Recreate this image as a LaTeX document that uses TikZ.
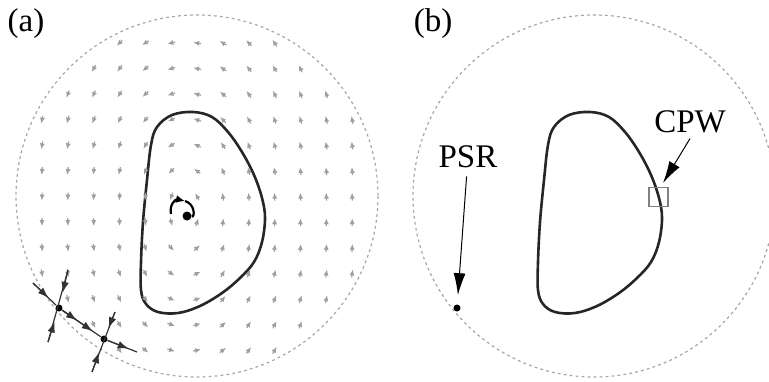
\documentclass[tikz,border=0pt]{standalone}
\usepackage{fontspec}
\setmainfont{Liberation Serif}
\usepackage{tikz}
\usetikzlibrary{arrows.meta,positioning,calc}

\begin{document}
\begin{tikzpicture}[
  x=0.5pt, y=-0.5pt,
  lbl/.style={font=\fontsize{16.5}{18}\selectfont, inner sep=0pt},
  wall/.style={draw=gray!70, line width=0.6pt, dash pattern=on 1.4pt off 1.6pt},
  lcfs/.style={draw=black!85, line width=1.3pt},
  fld/.style={draw=gray!75, line width=0.6pt, -{Latex[length=3pt,width=2.6pt]}},
  xln/.style={draw=black!80, line width=0.6pt},
  xarr/.style={draw=black!80, line width=0.6pt, -{Latex[length=5.5pt,width=3.8pt]}},
  pnt/.style={circle, fill=black, inner sep=0pt, minimum size=3.5pt},
  callout/.style={-{Latex[length=11pt,width=6pt]}, line width=0.5pt}
]
  \useasboundingbox (0,0) rectangle (769,381);

  \draw[wall] (197,196) circle[radius=181];
  \draw[wall] (594,196) circle[radius=181];

  \foreach \s in {0,397}
    \draw[lcfs, shift={(\s,0)}] plot[smooth cycle, tension=0.6] coordinates {
      (157,127) (172,115) (193,112) (212,117) (228,132) (242,152) (254,175)
      (262,198) (265,218) (262,242) (254,262) (240,278) (222,293) (200,306)
      (178,313) (158,312) (146,304) (141,290) (141,262) (143,222) (147,180) (151,145)};

  \foreach \i in {0,...,13}{
    \foreach \j in {0,...,12}{
      \pgfmathsetmacro{\px}{42+25.85*\i}
      \pgfmathsetmacro{\py}{43+25.6*\j}
      \pgfmathsetmacro{\rr}{100*veclen((\px-197)/100,(\py-196)/100)}
      \pgfmathsetmacro{\ra}{veclen((\px-186)/10,(\py-212)/10)}
      \pgfmathtruncatemacro{\ok}{and(\rr<176,\ra>1.5)}
      \ifnum\ok=1
        \pgfmathsetmacro{\vx}{0.6*(\py-212)/100}
        \pgfmathsetmacro{\vy}{-(\px-186)/60}
        \pgfmathsetmacro{\vn}{veclen(\vx,\vy)}
        \pgfmathsetmacro{\ax}{\px-4*\vx/\vn}
        \pgfmathsetmacro{\ay}{\py-4*\vy/\vn}
        \pgfmathsetmacro{\bx}{\px+4*\vx/\vn}
        \pgfmathsetmacro{\by}{\py+4*\vy/\vn}
        \draw[fld] (\ax,\ay) -- (\bx,\by);
      \fi
    }
  }

  \node[pnt, minimum size=4.5pt] (axis) at (187,216) {};
  \draw[line width=1.1pt, -{Latex[length=4.5pt,width=4pt]}] (171,214) .. controls (169,204) and (176,199) .. (185,201);
  \draw[line width=1.1pt] (185,201) .. controls (195,204) and (195,217) .. (axis);

  \node[pnt] (x1) at (59,308) {};
  \node[pnt] (x2) at (104,339) {};
  \coordinate (x1nw) at (33,283);
  \coordinate (x1n) at (68,270);
  \coordinate (x1s) at (48,342);
  \coordinate (x2n) at (115,312);
  \coordinate (x2s) at (92,372);
  \coordinate (x2e) at (137,352);
  \draw[xln] (x1nw) -- (x1) -- (x2) -- (x2e);
  \draw[xln] (x1n) -- (x1s);
  \draw[xln] (x2n) -- (x2s);
  \draw[xarr] (x1nw) -- ($(x1nw)!0.6!(x1)$);
  \draw[xarr] (x1n) -- ($(x1n)!0.6!(x1)$);
  \draw[xarr] (x1s) -- ($(x1s)!0.6!(x1)$);
  \draw[xarr] (x1) -- ($(x1)!0.4!(x2)$);
  \draw[xarr] (x1) -- ($(x1)!0.75!(x2)$);
  \draw[xarr] (x2n) -- ($(x2n)!0.6!(x2)$);
  \draw[xarr] (x2s) -- ($(x2s)!0.6!(x2)$);
  \draw[xarr] (x2) -- ($(x2)!0.75!(x2e)$);

  \node[lbl] (la) at (26,24) {(a)};
  \node[lbl] (lb) at (433,24) {(b)};
  \node[lbl] (psr) at (468,157) {PSR};
  \node[lbl] (cpw) at (690,122) {CPW};
  \node[pnt] (psrdot) at (457,308) {};
  \node[draw=gray, line width=0.6pt, minimum size=9.5pt, inner sep=0pt] (cpwbox) at (658.5,197) {};
  \coordinate (cpwtip) at (663,183);

  \draw[callout, shorten <=4pt, shorten >=4.5pt] (psr) -- (psrdot);
  \draw[callout] ([yshift=-2.5pt]cpw.south) -- (cpwtip);
\end{tikzpicture}
\end{document}
